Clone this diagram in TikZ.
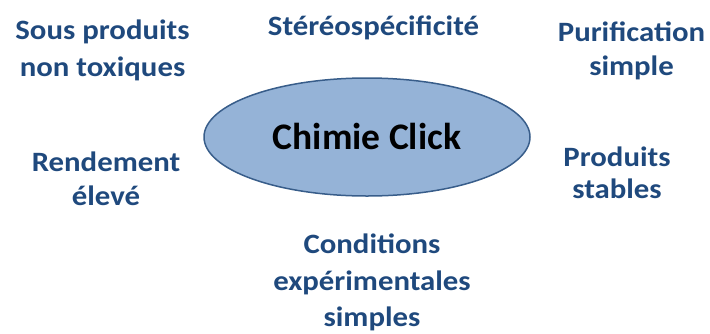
\documentclass[tikz,border=0pt]{standalone}
\usepackage{fontspec}
\setmainfont{Carlito}
\definecolor{txtblue}{HTML}{1F497D}
\definecolor{ellfill}{HTML}{95B3D7}
\definecolor{elldraw}{HTML}{385D8A}
\usetikzlibrary{shapes.geometric}
\begin{document}
\begin{tikzpicture}[x=1pt,y=-1pt,
  lbl/.style={text=txtblue,align=center,inner sep=0pt,anchor=base,xscale=1.1,transform shape},
  fs/.style={font=\bfseries\fontsize{28}{#1}\selectfont}]
\useasboundingbox (0,0) rectangle (710,333);
\node[ellipse,draw=elldraw,line width=1.5pt,fill=ellfill,minimum width=326pt,minimum height=118pt,inner sep=0pt] (cc) at (367,137) {};
\node[font=\bfseries\fontsize{37.5}{40}\selectfont,anchor=base,inner sep=0pt] (cct) at (367,149.3) {Chimie Click};
\node[lbl,fs=37.5] (a) at (102.5,76.7) {Sous produits\\non toxiques};
\node[lbl,fs=34] (b) at (373.5,35) {Stéréospécificité};
\node[lbl,fs=33.5] (c) at (631.5,75) {Purification\\simple};
\node[lbl,fs=33.5] (d) at (106,205) {Rendement\\élevé};
\node[lbl,fs=32] (e) at (617,198.3) {Produits\\stables};
\node[lbl,fs=36.7] (f) at (372,326.7) {Conditions\\expérimentales\\simples};
\end{tikzpicture}
\end{document}
